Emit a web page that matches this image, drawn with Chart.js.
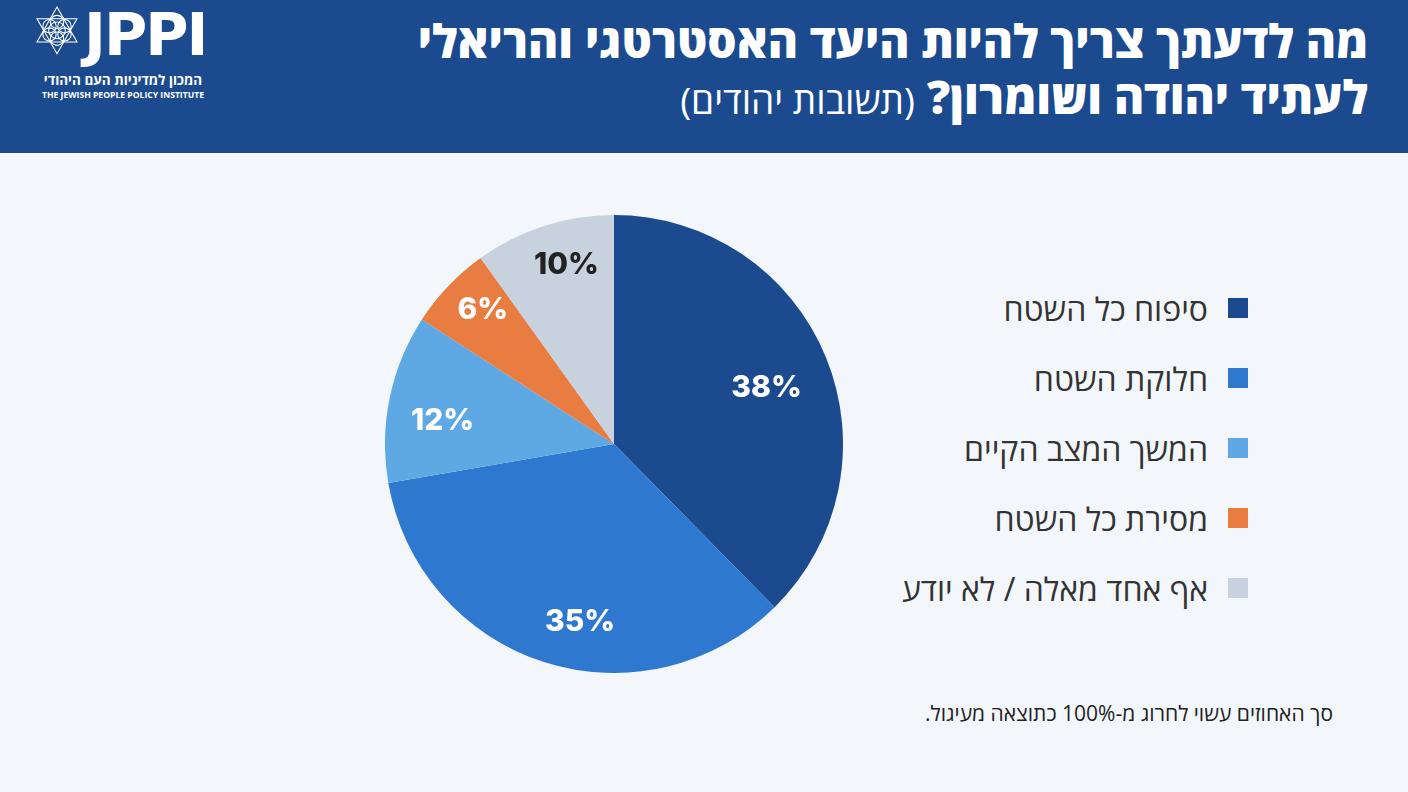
<!DOCTYPE html>
<html lang="he">
<head>
<meta charset="utf-8">
<script src="https://cdn.jsdelivr.net/npm/chart.js@4.4.1/dist/chart.umd.min.js"></script>
<style>
  html, body { margin: 0; padding: 0; }
  body { width: 1408px; height: 792px; background: #f3f7fc; position: relative; overflow: hidden;
         font-family: "Open Sans", "DejaVu Sans", sans-serif; }
  #header { position: absolute; left: 0; top: 0; width: 1408px; height: 153px; background: #1c4a8f; }
  #title { position: absolute; right: 40px; top: 12px; direction: rtl; text-align: right; color: #fff; white-space: nowrap; }
  #title .l1, #title .l2 { font-size: 46px; font-weight: 800; line-height: 56px; }
  #title .sub { font-size: 37px; font-weight: 400; }
  #logo { position: absolute; left: 30px; top: 0; width: 190px; height: 100px; color: #fff; }
  #logo .jppi { position: absolute; left: 54px; top: 1px; font-family: "DejaVu Sans", sans-serif; font-weight: 700;
                font-size: 59px; line-height: 68px; letter-spacing: -2px; }
  #logo .heb { position: absolute; left: 6px; top: 72px; width: 174px; text-align: center; direction: rtl;
               font-size: 13.5px; line-height: 16px; font-weight: 700; }
  #logo .eng { position: absolute; left: 6px; top: 90px; width: 174px; text-align: center;
               font-size: 8.6px; line-height: 11px; font-weight: 700; }
  #pie { position: absolute; left: 385px; top: 215px; width: 458px; height: 458px; }
  #legend { position: absolute; right: 160px; top: 285px; direction: rtl; }
  .item { height: 70px; display: flex; align-items: center; }
  .box { width: 20px; height: 20px; margin-left: 20px; margin-top: -24px; }
  .item span { font-size: 32px; color: #333; margin-top: -24px; }
  #note { position: absolute; right: 75px; top: 699px; direction: rtl; font-size: 21px; color: #222; white-space: nowrap; }
</style>
</head>
<body>
<div id="header">
  <div id="logo">
    <svg width="50" height="64" viewBox="0 0 60 64" style="position:absolute;left:2px;top:0" fill="none" stroke="#fff" stroke-width="1.3">
      <polygon points="30,2 54,44 6,44"/>
      <polygon points="30,58 54,16 6,16"/>
      <circle cx="30" cy="30" r="10"/>
      <circle cx="30" cy="20" r="8"/><circle cx="30" cy="40" r="8"/>
      <circle cx="21" cy="25" r="8"/><circle cx="39" cy="25" r="8"/>
      <circle cx="21" cy="35" r="8"/><circle cx="39" cy="35" r="8"/>
    </svg>
    <div class="jppi">JPPI</div>
    <div class="heb">המכון למדיניות העם היהודי</div>
    <div class="eng">THE JEWISH PEOPLE POLICY INSTITUTE</div>
  </div>
  <div id="title">
    <div class="l1">מה לדעתך צריך להיות היעד האסטרטגי והריאלי</div>
    <div class="l2">לעתיד יהודה ושומרון? <span class="sub">(תשובות יהודים)</span></div>
  </div>
</div>

<canvas id="pie" width="458" height="458"></canvas>
<div id="legend"></div>
<div id="note">סך האחוזים עשוי לחרוג מ-100% כתוצאה מעיגול.</div>

<script>
const categories = ["סיפוח כל השטח", "חלוקת השטח", "המשך המצב הקיים", "מסירת כל השטח", "אף אחד מאלה / לא יודע"];
const values = [38, 35, 12, 6, 10];
const colors = ["#1b4a8f", "#2f78d0", "#5ea8e4", "#e87c41", "#c8d1de"];
const labelColors = ["#ffffff", "#ffffff", "#ffffff", "#ffffff", "#222222"];
// where each percent label sits inside its slice (fraction of radius, angle nudge in degrees)
const labelRadius = [0.71, 0.79, 0.755, 0.82, 0.81];
const labelNudge = [2, -7, -4, 2, 3];

// legend built from the same arrays
const legend = document.getElementById("legend");
categories.forEach((c, i) => {
  const d = document.createElement("div");
  d.className = "item";
  d.innerHTML = '<div class="box" style="background:' + colors[i] + '"></div><span>' + c + '</span>';
  legend.appendChild(d);
});

const sliceLabels = {
  id: "sliceLabels",
  afterDatasetsDraw(chart) {
    const ctx = chart.ctx;
    const meta = chart.getDatasetMeta(0);
    ctx.save();
    ctx.font = "800 30px Inter, 'Open Sans', sans-serif";
    ctx.textAlign = "center";
    ctx.textBaseline = "middle";
    meta.data.forEach((arc, i) => {
      const p = arc.getProps(["x", "y", "startAngle", "endAngle", "outerRadius"]);
      const a = (p.startAngle + p.endAngle) / 2 + labelNudge[i] * Math.PI / 180;
      const r = p.outerRadius * labelRadius[i];
      ctx.fillStyle = labelColors[i];
      ctx.fillText(values[i] + "%", p.x + Math.cos(a) * r, p.y + Math.sin(a) * r);
    });
    ctx.restore();
  }
};

new Chart(document.getElementById("pie"), {
  type: "pie",
  data: {
    labels: categories,
    datasets: [{ data: values, backgroundColor: colors, borderWidth: 0 }]
  },
  options: {
    responsive: false,
    animation: false,
    layout: { padding: 0 },
    plugins: { legend: { display: false }, tooltip: { enabled: false } }
  },
  plugins: [sliceLabels]
});
</script>
</body>
</html>
